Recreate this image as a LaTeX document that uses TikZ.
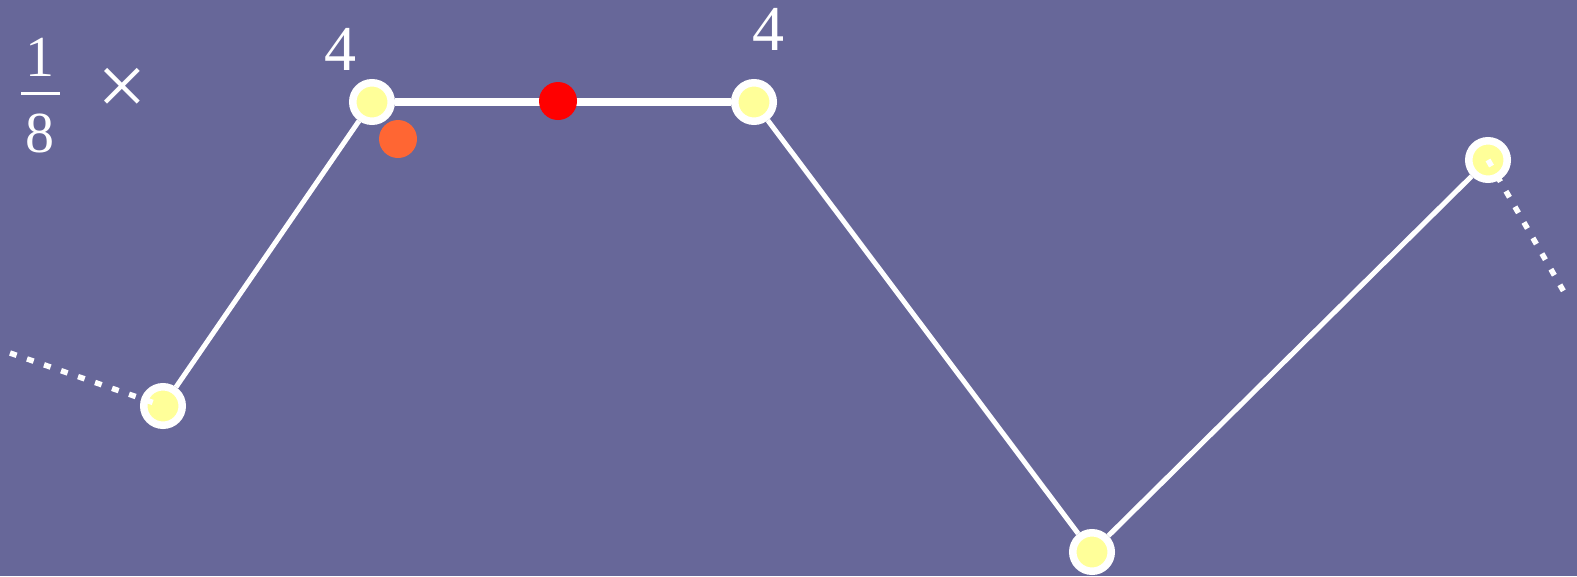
\documentclass[tikz,border=0pt]{standalone}
\usepackage{fontspec}
\setmainfont{Liberation Serif}
\usetikzlibrary{positioning}

\definecolor{slate}{RGB}{103,103,153}
\definecolor{vtxyellow}{RGB}{255,255,153}
\definecolor{dotorange}{RGB}{255,102,51}

\tikzset{
    vertex/.style={circle, draw=white, fill=vtxyellow, line width=7.5pt, minimum size=38.5pt, inner sep=0pt},
    edge/.style={draw=white, line width=5pt},
    ghost/.style={draw=white, line width=5.5pt, dash pattern=on 7pt off 11pt},
    dot/.style={circle, minimum size=38pt, inner sep=0pt},
    num/.style={text=white, font=\fontsize{64}{64}\selectfont, inner sep=0pt, anchor=base}
}

\begin{document}
\begin{tikzpicture}[x=1pt, y=-1pt]
    \fill[slate] (0,0) rectangle (1577,576);
    \useasboundingbox (0,0) rectangle (1577,576);

    % control points
    \node[vertex] (pa) at (163,406) {};
    \node[vertex] (pb) at (372,102) {};
    \node[vertex] (pc) at (754,102) {};
    \node[vertex] (pd) at (1092,552) {};
    \node[vertex] (pe) at (1488,160) {};
    \coordinate (la) at (10,353);
    \coordinate (le) at (1564,292);

    \draw[edge] (pa) -- (pb);
    \draw[edge, line width=8pt] (pb) -- (pc);
    \draw[edge] (pc) -- (pd);
    \draw[edge] (pd) -- (pe);
    \draw[ghost] (la) -- (pa.center);
    \draw[ghost] (pe.center) -- (le);

    \node[dot, fill=red] (mid) at (558,101) {};
    \node[dot, fill=dotorange] (near) at (398,139) {};

    % weights
    \node[num] (wb) at (340,70) {4};
    \node[num] (wc) at (768,50) {4};
    \node[num, font=\fontsize{58}{58}\selectfont] (one) at (40,76) {1};
    \node[num, font=\fontsize{58}{58}\selectfont] (eight) at (40,152) {8};
    \fill[white] (21,92) rectangle (60,95);
    \node[text=white, font=\fontsize{88}{88}\selectfont, inner sep=0pt] (times) at (122,92) {×};
\end{tikzpicture}
\end{document}
